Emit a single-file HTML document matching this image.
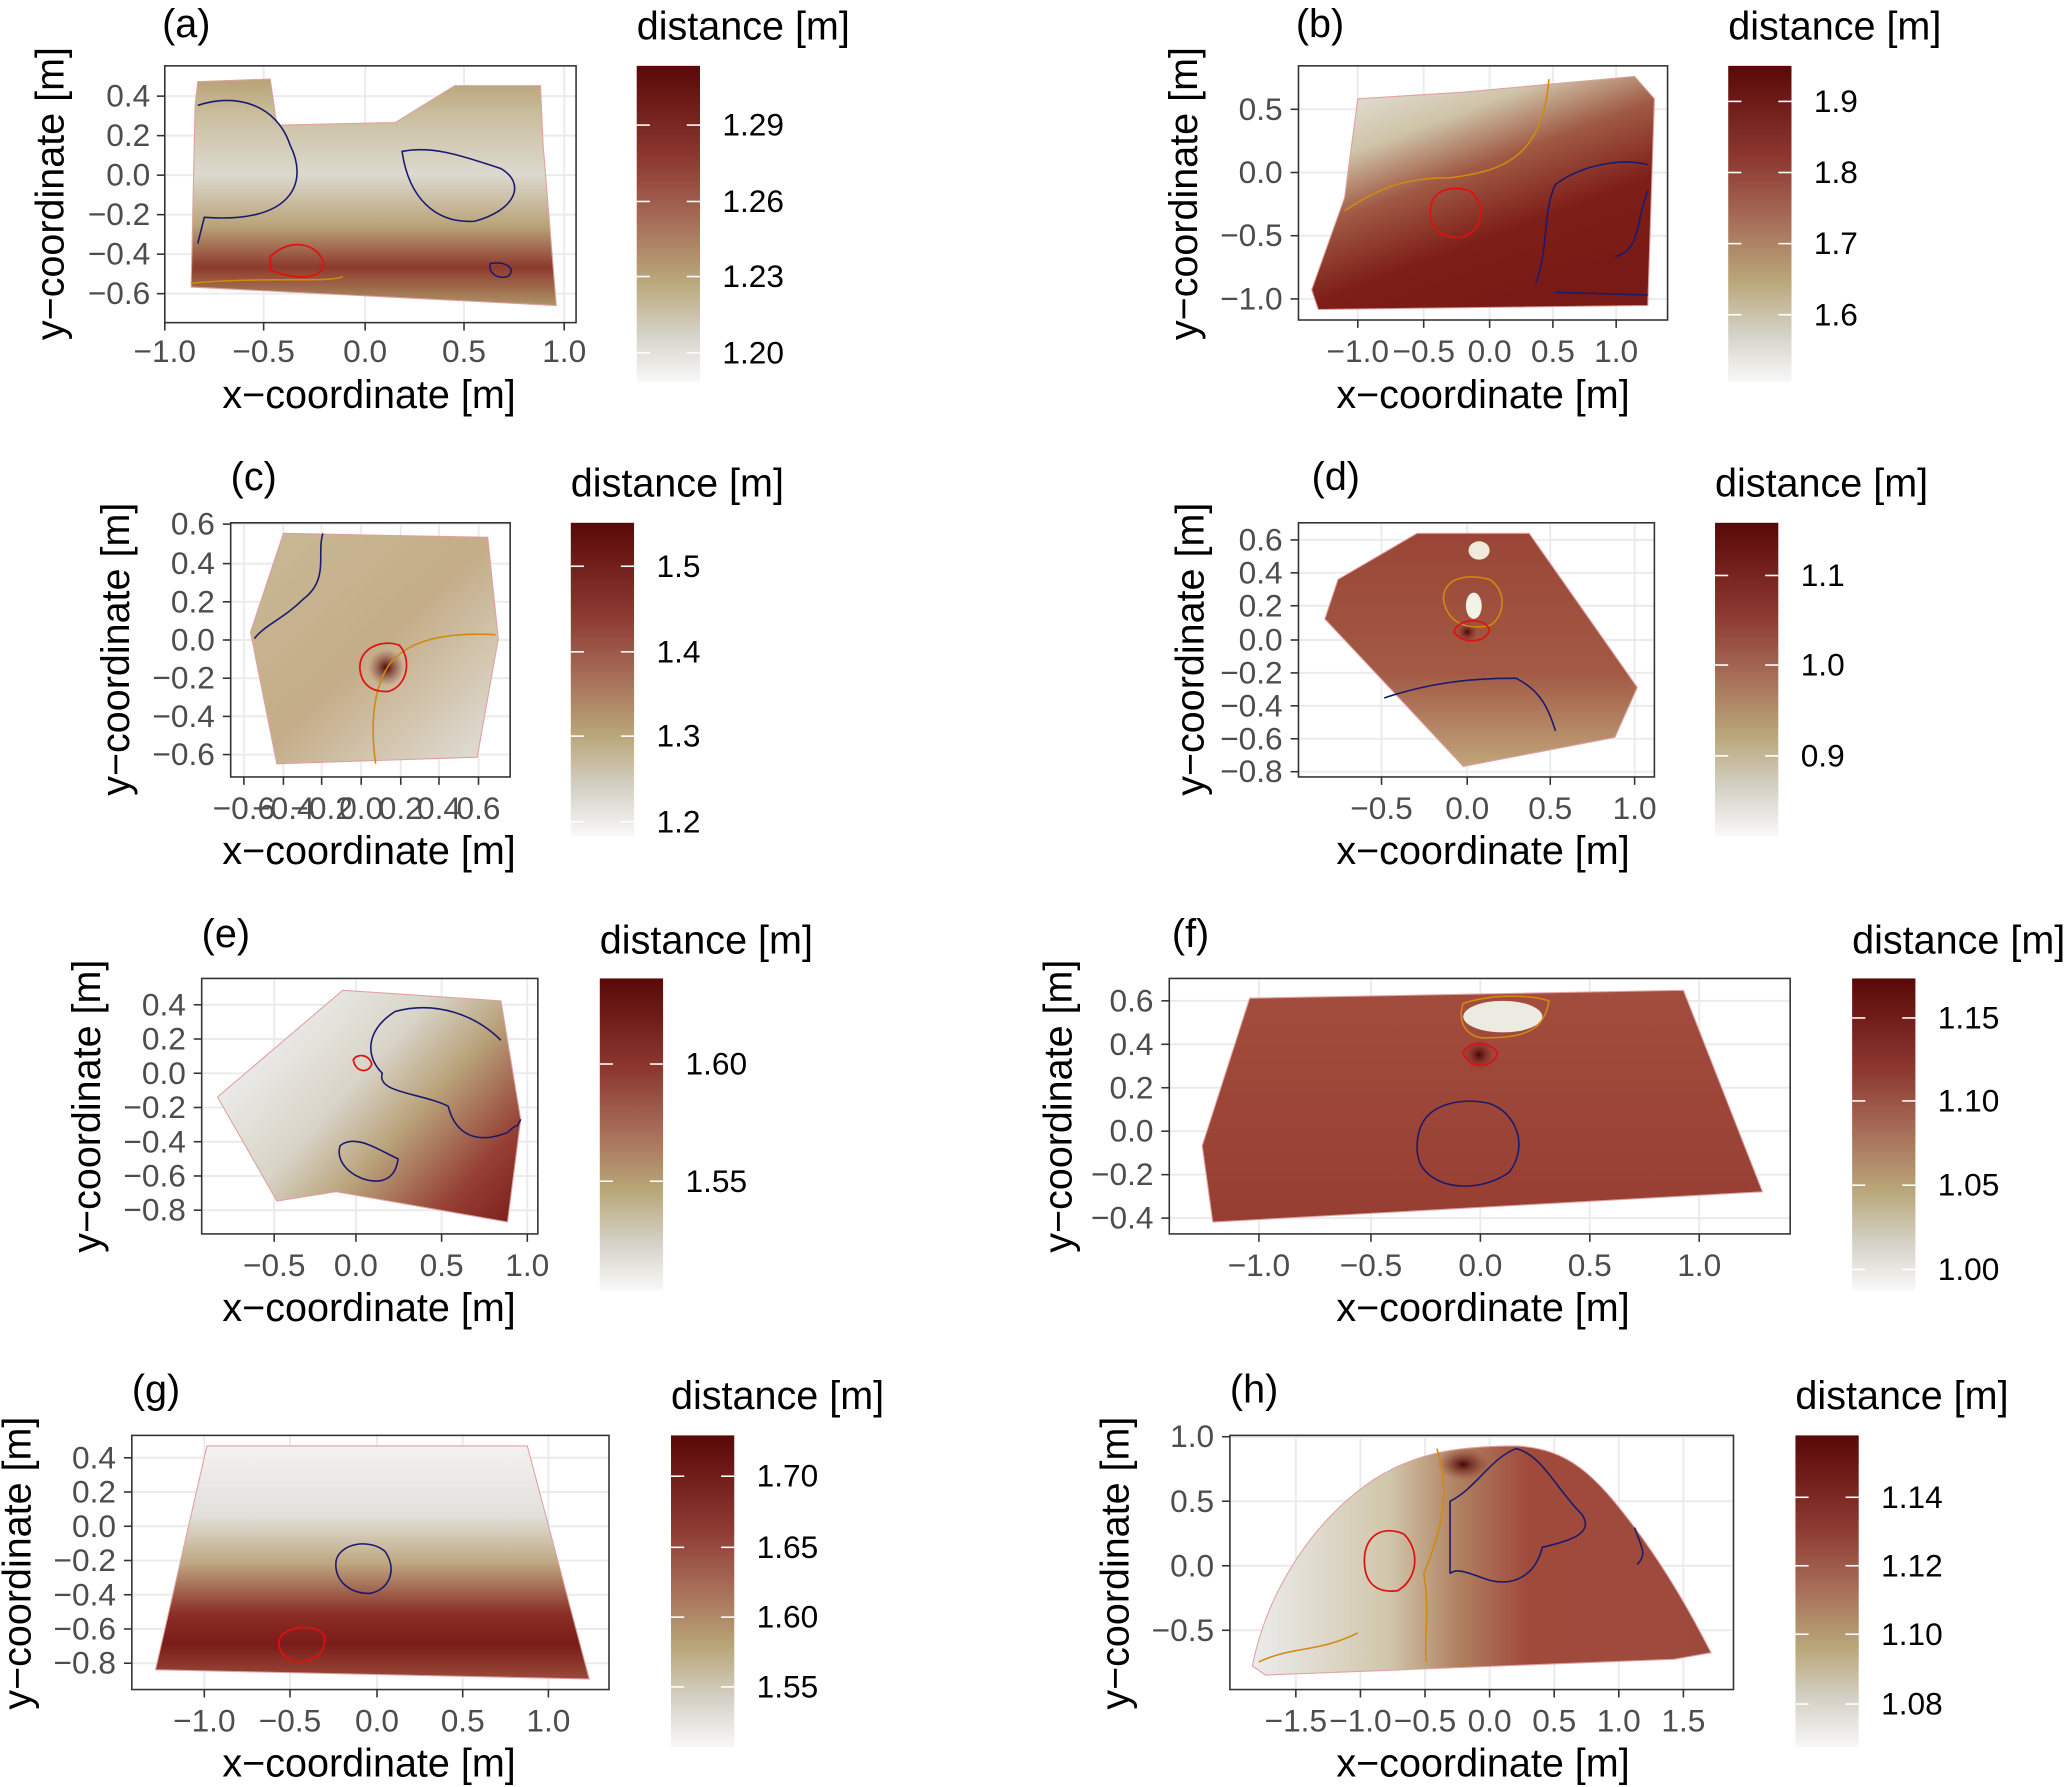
<!DOCTYPE html>
<html><head><meta charset="utf-8"><style>
html,body{margin:0;padding:0;background:#fff}
svg{display:block}
text{font-family:"Liberation Sans",Arial,sans-serif}
.t{font-size:24px;fill:#4d4d4d}
.ti{font-size:30px;fill:#000}
.g{stroke:#ebebeb;stroke-width:1.5;fill:none}
.b{fill:none;stroke:#333;stroke-width:1.2}
.tk{stroke:#333;stroke-width:1.2}
.cb{stroke:#fff;stroke-width:1.2}
.cn{fill:none;stroke:#1a1a6e;stroke-width:1.2}
.co{fill:none;stroke:#d08a10;stroke-width:1.2}
.cr{fill:none;stroke:#e01010;stroke-width:1.3}
</style></head><body>
<svg width="2067" height="1787" viewBox="0 0 1568 1357" preserveAspectRatio="none" xmlns="http://www.w3.org/2000/svg">
<defs>
<linearGradient id="cbar" x1="0" y1="0" x2="0" y2="1">
<stop offset="0" stop-color="#5a0808"/><stop offset="0.3" stop-color="#8e3a32"/><stop offset="0.5" stop-color="#a8705a"/><stop offset="0.68" stop-color="#b9a779"/><stop offset="0.85" stop-color="#d5d2c8"/><stop offset="1" stop-color="#f8f8f8"/>
</linearGradient>
<linearGradient id="ga" x1="0" y1="0" x2="0" y2="1">
<stop offset="0" stop-color="#b8a276"/><stop offset="0.15" stop-color="#c9bd9c"/><stop offset="0.42" stop-color="#ddd9cf"/><stop offset="0.65" stop-color="#b9a378"/><stop offset="0.83" stop-color="#8d3a2c"/><stop offset="1" stop-color="#ad9466"/>
</linearGradient>
<linearGradient id="gb" x1="0" y1="0" x2="0.55" y2="1">
<stop offset="0" stop-color="#ececec"/><stop offset="0.3" stop-color="#cfc4a8"/><stop offset="0.5" stop-color="#a05a44"/><stop offset="0.75" stop-color="#7e1e18"/><stop offset="1" stop-color="#7a1a16"/>
</linearGradient>
<linearGradient id="gc" x1="0" y1="0" x2="1" y2="1">
<stop offset="0" stop-color="#c8b995"/><stop offset="0.5" stop-color="#c4ad88"/><stop offset="1" stop-color="#e3e1dc"/>
</linearGradient>
<linearGradient id="gd" x1="0" y1="0" x2="0" y2="1">
<stop offset="0" stop-color="#9a4535"/><stop offset="0.6" stop-color="#a35a45"/><stop offset="1" stop-color="#c0a57a"/>
</linearGradient>
<linearGradient id="ge" x1="0" y1="0.3" x2="1" y2="1">
<stop offset="0" stop-color="#f0f0f0"/><stop offset="0.35" stop-color="#d8d4c8"/><stop offset="0.55" stop-color="#b9a27a"/><stop offset="0.8" stop-color="#964035"/><stop offset="1" stop-color="#7a1c1a"/>
</linearGradient>
<linearGradient id="gf" x1="0" y1="0" x2="0" y2="1">
<stop offset="0" stop-color="#a24d3e"/><stop offset="1" stop-color="#963e32"/>
</linearGradient>
<linearGradient id="gg" x1="0" y1="0" x2="0" y2="1">
<stop offset="0" stop-color="#f2f2f2"/><stop offset="0.3" stop-color="#e2e0da"/><stop offset="0.5" stop-color="#bfa882"/><stop offset="0.72" stop-color="#8a2e26"/><stop offset="0.85" stop-color="#7a1c18"/><stop offset="1" stop-color="#9a4a3a"/>
</linearGradient>
<linearGradient id="gh" x1="0" y1="0" x2="1" y2="0">
<stop offset="0" stop-color="#ececec"/><stop offset="0.3" stop-color="#d0c6aa"/><stop offset="0.45" stop-color="#b08060"/><stop offset="0.6" stop-color="#a04a3c"/><stop offset="1" stop-color="#9d4a3c"/>
</linearGradient>
<radialGradient id="spot"><stop offset="0" stop-color="#4a0505"/><stop offset="1" stop-color="#8a3a30" stop-opacity="0"/></radialGradient>
</defs>

<!-- ===== (a) ===== -->
<text class="ti" x="123" y="28">(a)</text>
<g class="g"><line x1="125" y1="73" x2="437" y2="73"/><line x1="125" y1="103" x2="437" y2="103"/><line x1="125" y1="133" x2="437" y2="133"/><line x1="125" y1="163" x2="437" y2="163"/><line x1="125" y1="193" x2="437" y2="193"/><line x1="125" y1="223" x2="437" y2="223"/><line x1="200" y1="50" x2="200" y2="245"/><line x1="277" y1="50" x2="277" y2="245"/><line x1="352" y1="50" x2="352" y2="245"/><line x1="428" y1="50" x2="428" y2="245"/></g>
<polygon points="150,62 205,60 210,95 300,93 345,65 410,65 412,110 422,232 145,218 148,80" fill="url(#ga)" stroke="#e0a0a0" stroke-width="0.8"/>
<path class="cn" d="M150,80 C180,70 210,80 220,110 C235,140 220,170 155,165 L150,185"/>
<path class="cn" d="M305,115 C330,110 355,120 380,128 C400,140 390,160 360,168 C330,170 310,150 305,115 Z"/>
<path class="cn" d="M372,200 C385,198 392,205 385,210 C378,212 370,208 372,200 Z"/>
<path class="cr" d="M205,195 C220,180 240,185 245,198 C248,210 230,215 205,205 Z"/>
<path class="co" d="M145,215 C200,210 250,215 260,210"/>
<rect class="b" x="125" y="50" width="312" height="195"/>
<g class="tk"><line x1="119" y1="73" x2="125" y2="73"/><line x1="119" y1="103" x2="125" y2="103"/><line x1="119" y1="133" x2="125" y2="133"/><line x1="119" y1="163" x2="125" y2="163"/><line x1="119" y1="193" x2="125" y2="193"/><line x1="119" y1="223" x2="125" y2="223"/><line x1="125" y1="245" x2="125" y2="251"/><line x1="200" y1="245" x2="200" y2="251"/><line x1="277" y1="245" x2="277" y2="251"/><line x1="352" y1="245" x2="352" y2="251"/><line x1="428" y1="245" x2="428" y2="251"/></g>
<g class="t" text-anchor="end"><text x="114" y="81">0.4</text><text x="114" y="111">0.2</text><text x="114" y="141">0.0</text><text x="114" y="171">−0.2</text><text x="114" y="201">−0.4</text><text x="114" y="231">−0.6</text></g>
<g class="t" text-anchor="middle"><text x="125" y="275">−1.0</text><text x="200" y="275">−0.5</text><text x="277" y="275">0.0</text><text x="352" y="275">0.5</text><text x="428" y="275">1.0</text></g>
<text class="ti" x="280" y="310" text-anchor="middle">x−coordinate [m]</text>
<text class="ti" transform="translate(48,147) rotate(-90)" text-anchor="middle">y−coordinate [m]</text>
<text class="ti" x="483" y="30">distance [m]</text>
<rect x="483" y="50" width="48" height="240" fill="url(#cbar)"/>
<g class="cb"><line x1="483" y1="95" x2="493" y2="95"/><line x1="521" y1="95" x2="531" y2="95"/><line x1="483" y1="153" x2="493" y2="153"/><line x1="521" y1="153" x2="531" y2="153"/><line x1="483" y1="210" x2="493" y2="210"/><line x1="521" y1="210" x2="531" y2="210"/><line x1="483" y1="268" x2="493" y2="268"/><line x1="521" y1="268" x2="531" y2="268"/></g>
<g class="t"><text x="548" y="103" style="fill:#000">1.29</text><text x="548" y="161" style="fill:#000">1.26</text><text x="548" y="218" style="fill:#000">1.23</text><text x="548" y="276" style="fill:#000">1.20</text></g>

<!-- ===== (b) ===== -->
<text class="ti" x="983" y="28">(b)</text>
<g class="g"><line x1="985" y1="83" x2="1265" y2="83"/><line x1="985" y1="131" x2="1265" y2="131"/><line x1="985" y1="179" x2="1265" y2="179"/><line x1="985" y1="227" x2="1265" y2="227"/><line x1="1030" y1="50" x2="1030" y2="243"/><line x1="1080" y1="50" x2="1080" y2="243"/><line x1="1130" y1="50" x2="1130" y2="243"/><line x1="1178" y1="50" x2="1178" y2="243"/><line x1="1226" y1="50" x2="1226" y2="243"/></g>
<polygon points="1030,75 1110,70 1240,58 1255,75 1250,232 1000,235 995,220 1020,150" fill="url(#gb)" stroke="#e0a0a0" stroke-width="0.8"/>
<path class="co" d="M1020,160 C1050,140 1070,135 1100,135 C1140,130 1170,120 1175,60"/>
<path class="cr" d="M1085,160 C1085,145 1100,140 1115,145 C1128,155 1125,175 1110,180 C1095,182 1085,175 1085,160 Z"/>
<path class="cn" d="M1250,125 C1230,120 1200,125 1180,140 C1170,160 1175,190 1165,215 M1250,145 C1240,170 1245,190 1225,195"/>
<path class="cn" d="M1180,222 L1250,224"/>
<rect class="b" x="985" y="50" width="280" height="193"/>
<g class="tk"><line x1="979" y1="83" x2="985" y2="83"/><line x1="979" y1="131" x2="985" y2="131"/><line x1="979" y1="179" x2="985" y2="179"/><line x1="979" y1="227" x2="985" y2="227"/><line x1="1030" y1="243" x2="1030" y2="249"/><line x1="1080" y1="243" x2="1080" y2="249"/><line x1="1130" y1="243" x2="1130" y2="249"/><line x1="1178" y1="243" x2="1178" y2="249"/><line x1="1226" y1="243" x2="1226" y2="249"/></g>
<g class="t" text-anchor="end"><text x="973" y="91">0.5</text><text x="973" y="139">0.0</text><text x="973" y="187">−0.5</text><text x="973" y="235">−1.0</text></g>
<g class="t" text-anchor="middle"><text x="1030" y="275">−1.0</text><text x="1080" y="275">−0.5</text><text x="1130" y="275">0.0</text><text x="1178" y="275">0.5</text><text x="1226" y="275">1.0</text></g>
<text class="ti" x="1125" y="310" text-anchor="middle">x−coordinate [m]</text>
<text class="ti" transform="translate(908,147) rotate(-90)" text-anchor="middle">y−coordinate [m]</text>
<text class="ti" x="1311" y="30">distance [m]</text>
<rect x="1311" y="50" width="48" height="240" fill="url(#cbar)"/>
<g class="cb"><line x1="1311" y1="77" x2="1321" y2="77"/><line x1="1349" y1="77" x2="1359" y2="77"/><line x1="1311" y1="131" x2="1321" y2="131"/><line x1="1349" y1="131" x2="1359" y2="131"/><line x1="1311" y1="185" x2="1321" y2="185"/><line x1="1349" y1="185" x2="1359" y2="185"/><line x1="1311" y1="239" x2="1321" y2="239"/><line x1="1349" y1="239" x2="1359" y2="239"/></g>
<g class="t"><text x="1376" y="85" style="fill:#000">1.9</text><text x="1376" y="139" style="fill:#000">1.8</text><text x="1376" y="193" style="fill:#000">1.7</text><text x="1376" y="247" style="fill:#000">1.6</text></g>

<!-- ===== (c) ===== -->
<text class="ti" x="175" y="372">(c)</text>
<g class="g"><line x1="175" y1="398" x2="387" y2="398"/><line x1="175" y1="428" x2="387" y2="428"/><line x1="175" y1="457" x2="387" y2="457"/><line x1="175" y1="486" x2="387" y2="486"/><line x1="175" y1="515" x2="387" y2="515"/><line x1="175" y1="544" x2="387" y2="544"/><line x1="175" y1="573" x2="387" y2="573"/><line x1="185" y1="397" x2="185" y2="590"/><line x1="215" y1="397" x2="215" y2="590"/><line x1="244" y1="397" x2="244" y2="590"/><line x1="274" y1="397" x2="274" y2="590"/><line x1="304" y1="397" x2="304" y2="590"/><line x1="333" y1="397" x2="333" y2="590"/><line x1="363" y1="397" x2="363" y2="590"/></g>
<polygon points="215,405 370,408 378,485 362,575 210,580 190,480" fill="url(#gc)" stroke="#e0a0a0" stroke-width="0.8"/>
<circle cx="293" cy="507" r="14" fill="url(#spot)"/>
<path class="cn" d="M245,405 C240,420 250,440 230,455 C215,470 200,475 193,485"/>
<path class="co" d="M376,482 C340,480 310,485 295,505 C285,520 280,545 285,580"/>
<path class="cr" d="M273,508 C272,492 290,485 303,490 C312,500 310,520 295,525 C280,526 274,518 273,508 Z"/>
<rect class="b" x="175" y="397" width="212" height="193"/>
<g class="tk"><line x1="169" y1="398" x2="175" y2="398"/><line x1="169" y1="428" x2="175" y2="428"/><line x1="169" y1="457" x2="175" y2="457"/><line x1="169" y1="486" x2="175" y2="486"/><line x1="169" y1="515" x2="175" y2="515"/><line x1="169" y1="544" x2="175" y2="544"/><line x1="169" y1="573" x2="175" y2="573"/><line x1="185" y1="590" x2="185" y2="596"/><line x1="215" y1="590" x2="215" y2="596"/><line x1="244" y1="590" x2="244" y2="596"/><line x1="274" y1="590" x2="274" y2="596"/><line x1="304" y1="590" x2="304" y2="596"/><line x1="333" y1="590" x2="333" y2="596"/><line x1="363" y1="590" x2="363" y2="596"/></g>
<g class="t" text-anchor="end"><text x="163" y="406">0.6</text><text x="163" y="436">0.4</text><text x="163" y="465">0.2</text><text x="163" y="494">0.0</text><text x="163" y="523">−0.2</text><text x="163" y="552">−0.4</text><text x="163" y="581">−0.6</text></g>
<g class="t" text-anchor="middle"><text x="185" y="622">−0.6</text><text x="215" y="622">−0.4</text><text x="244" y="622">−0.2</text><text x="274" y="622">0.0</text><text x="304" y="622">0.2</text><text x="333" y="622">0.4</text><text x="363" y="622">0.6</text></g>
<text class="ti" x="280" y="656" text-anchor="middle">x−coordinate [m]</text>
<text class="ti" transform="translate(98,493) rotate(-90)" text-anchor="middle">y−coordinate [m]</text>
<text class="ti" x="433" y="377">distance [m]</text>
<rect x="433" y="397" width="48" height="238" fill="url(#cbar)"/>
<g class="cb"><line x1="433" y1="430" x2="443" y2="430"/><line x1="471" y1="430" x2="481" y2="430"/><line x1="433" y1="495" x2="443" y2="495"/><line x1="471" y1="495" x2="481" y2="495"/><line x1="433" y1="559" x2="443" y2="559"/><line x1="471" y1="559" x2="481" y2="559"/><line x1="433" y1="624" x2="443" y2="624"/><line x1="471" y1="624" x2="481" y2="624"/></g>
<g class="t"><text x="498" y="438" style="fill:#000">1.5</text><text x="498" y="503" style="fill:#000">1.4</text><text x="498" y="567" style="fill:#000">1.3</text><text x="498" y="632" style="fill:#000">1.2</text></g>

<!-- ===== (d) ===== -->
<text class="ti" x="995" y="372">(d)</text>
<g class="g"><line x1="985" y1="410" x2="1255" y2="410"/><line x1="985" y1="435" x2="1255" y2="435"/><line x1="985" y1="460" x2="1255" y2="460"/><line x1="985" y1="486" x2="1255" y2="486"/><line x1="985" y1="511" x2="1255" y2="511"/><line x1="985" y1="536" x2="1255" y2="536"/><line x1="985" y1="561" x2="1255" y2="561"/><line x1="985" y1="586" x2="1255" y2="586"/><line x1="1048" y1="397" x2="1048" y2="590"/><line x1="1113" y1="397" x2="1113" y2="590"/><line x1="1176" y1="397" x2="1176" y2="590"/><line x1="1240" y1="397" x2="1240" y2="590"/></g>
<polygon points="1075,405 1160,405 1242,522 1225,560 1110,582 1005,470 1015,440" fill="url(#gd)" stroke="#e0a0a0" stroke-width="0.8"/>
<ellipse cx="1122" cy="418" rx="8" ry="7" fill="#eeeadc"/>
<ellipse cx="1118" cy="460" rx="6" ry="10" fill="#f4f2e8"/>
<circle cx="1113" cy="480" r="8" fill="url(#spot)"/>
<path class="co" d="M1095,455 C1095,440 1110,435 1130,440 C1145,450 1140,470 1130,475 C1115,478 1098,475 1095,455 Z"/>
<path class="cr" d="M1103,480 C1105,470 1125,468 1130,478 C1128,488 1110,490 1103,480 Z"/>
<path class="cn" d="M1050,530 C1080,520 1110,515 1150,515 C1170,525 1175,540 1180,555"/>
<rect class="b" x="985" y="397" width="270" height="193"/>
<g class="tk"><line x1="979" y1="410" x2="985" y2="410"/><line x1="979" y1="435" x2="985" y2="435"/><line x1="979" y1="460" x2="985" y2="460"/><line x1="979" y1="486" x2="985" y2="486"/><line x1="979" y1="511" x2="985" y2="511"/><line x1="979" y1="536" x2="985" y2="536"/><line x1="979" y1="561" x2="985" y2="561"/><line x1="979" y1="586" x2="985" y2="586"/><line x1="1048" y1="590" x2="1048" y2="596"/><line x1="1113" y1="590" x2="1113" y2="596"/><line x1="1176" y1="590" x2="1176" y2="596"/><line x1="1240" y1="590" x2="1240" y2="596"/></g>
<g class="t" text-anchor="end"><text x="973" y="418">0.6</text><text x="973" y="443">0.4</text><text x="973" y="468">0.2</text><text x="973" y="494">0.0</text><text x="973" y="519">−0.2</text><text x="973" y="544">−0.4</text><text x="973" y="569">−0.6</text><text x="973" y="594">−0.8</text></g>
<g class="t" text-anchor="middle"><text x="1048" y="622">−0.5</text><text x="1113" y="622">0.0</text><text x="1176" y="622">0.5</text><text x="1240" y="622">1.0</text></g>
<text class="ti" x="1125" y="656" text-anchor="middle">x−coordinate [m]</text>
<text class="ti" transform="translate(913,493) rotate(-90)" text-anchor="middle">y−coordinate [m]</text>
<text class="ti" x="1301" y="377">distance [m]</text>
<rect x="1301" y="397" width="48" height="238" fill="url(#cbar)"/>
<g class="cb"><line x1="1301" y1="437" x2="1311" y2="437"/><line x1="1339" y1="437" x2="1349" y2="437"/><line x1="1301" y1="505" x2="1311" y2="505"/><line x1="1339" y1="505" x2="1349" y2="505"/><line x1="1301" y1="574" x2="1311" y2="574"/><line x1="1339" y1="574" x2="1349" y2="574"/></g>
<g class="t"><text x="1366" y="445" style="fill:#000">1.1</text><text x="1366" y="513" style="fill:#000">1.0</text><text x="1366" y="582" style="fill:#000">0.9</text></g>

<!-- ===== (e) ===== -->
<text class="ti" x="153" y="719">(e)</text>
<g class="g"><line x1="153" y1="763" x2="408" y2="763"/><line x1="153" y1="789" x2="408" y2="789"/><line x1="153" y1="815" x2="408" y2="815"/><line x1="153" y1="841" x2="408" y2="841"/><line x1="153" y1="867" x2="408" y2="867"/><line x1="153" y1="893" x2="408" y2="893"/><line x1="153" y1="919" x2="408" y2="919"/><line x1="208" y1="743" x2="208" y2="937"/><line x1="270" y1="743" x2="270" y2="937"/><line x1="335" y1="743" x2="335" y2="937"/><line x1="400" y1="743" x2="400" y2="937"/></g>
<polygon points="165,833 260,752 380,760 395,850 385,928 255,905 210,912" fill="url(#ge)" stroke="#e0a0a0" stroke-width="0.8"/>
<path class="cn" d="M380,790 C360,770 330,760 300,768 C280,780 275,800 290,815 C285,830 320,830 340,840 C345,860 360,870 385,860 C395,850 390,860 395,850"/>
<path class="cn" d="M258,870 C270,860 290,875 302,880 C300,895 290,900 275,895 C262,890 255,880 258,870 Z"/>
<path class="cr" d="M268,805 C270,800 280,800 282,808 C280,815 270,815 268,805 Z"/>
<rect class="b" x="153" y="743" width="255" height="194"/>
<g class="tk"><line x1="147" y1="763" x2="153" y2="763"/><line x1="147" y1="789" x2="153" y2="789"/><line x1="147" y1="815" x2="153" y2="815"/><line x1="147" y1="841" x2="153" y2="841"/><line x1="147" y1="867" x2="153" y2="867"/><line x1="147" y1="893" x2="153" y2="893"/><line x1="147" y1="919" x2="153" y2="919"/><line x1="208" y1="937" x2="208" y2="943"/><line x1="270" y1="937" x2="270" y2="943"/><line x1="335" y1="937" x2="335" y2="943"/><line x1="400" y1="937" x2="400" y2="943"/></g>
<g class="t" text-anchor="end"><text x="141" y="771">0.4</text><text x="141" y="797">0.2</text><text x="141" y="823">0.0</text><text x="141" y="849">−0.2</text><text x="141" y="875">−0.4</text><text x="141" y="901">−0.6</text><text x="141" y="927">−0.8</text></g>
<g class="t" text-anchor="middle"><text x="208" y="969">−0.5</text><text x="270" y="969">0.0</text><text x="335" y="969">0.5</text><text x="400" y="969">1.0</text></g>
<text class="ti" x="280" y="1003" text-anchor="middle">x−coordinate [m]</text>
<text class="ti" transform="translate(76,840) rotate(-90)" text-anchor="middle">y−coordinate [m]</text>
<text class="ti" x="455" y="724">distance [m]</text>
<rect x="455" y="743" width="48" height="237" fill="url(#cbar)"/>
<g class="cb"><line x1="455" y1="808" x2="465" y2="808"/><line x1="493" y1="808" x2="503" y2="808"/><line x1="455" y1="897" x2="465" y2="897"/><line x1="493" y1="897" x2="503" y2="897"/></g>
<g class="t"><text x="520" y="816" style="fill:#000">1.60</text><text x="520" y="905" style="fill:#000">1.55</text></g>

<!-- ===== (f) ===== -->
<text class="ti" x="889" y="719">(f)</text>
<g class="g"><line x1="887" y1="760" x2="1358" y2="760"/><line x1="887" y1="793" x2="1358" y2="793"/><line x1="887" y1="826" x2="1358" y2="826"/><line x1="887" y1="859" x2="1358" y2="859"/><line x1="887" y1="892" x2="1358" y2="892"/><line x1="887" y1="925" x2="1358" y2="925"/><line x1="955" y1="743" x2="955" y2="937"/><line x1="1040" y1="743" x2="1040" y2="937"/><line x1="1123" y1="743" x2="1123" y2="937"/><line x1="1206" y1="743" x2="1206" y2="937"/><line x1="1289" y1="743" x2="1289" y2="937"/></g>
<polygon points="948,758 1277,752 1337,905 920,928 912,870" fill="url(#gf)" stroke="#e0a0a0" stroke-width="0.8"/>
<ellipse cx="1140" cy="772" rx="30" ry="12" fill="#ecebe2"/>
<circle cx="1122" cy="801" r="12" fill="url(#spot)"/>
<path class="co" d="M1110,762 C1130,755 1160,755 1175,760 C1172,780 1160,788 1130,788 C1112,790 1105,775 1110,762 Z"/>
<path class="cr" d="M1110,800 C1112,790 1132,790 1136,800 C1132,812 1115,812 1110,800 Z"/>
<path class="cn" d="M1078,855 C1085,838 1110,833 1130,838 C1150,845 1160,870 1145,890 C1125,905 1090,905 1078,885 C1073,875 1075,862 1078,855 Z"/>
<rect class="b" x="887" y="743" width="471" height="194"/>
<g class="tk"><line x1="881" y1="760" x2="887" y2="760"/><line x1="881" y1="793" x2="887" y2="793"/><line x1="881" y1="826" x2="887" y2="826"/><line x1="881" y1="859" x2="887" y2="859"/><line x1="881" y1="892" x2="887" y2="892"/><line x1="881" y1="925" x2="887" y2="925"/><line x1="955" y1="937" x2="955" y2="943"/><line x1="1040" y1="937" x2="1040" y2="943"/><line x1="1123" y1="937" x2="1123" y2="943"/><line x1="1206" y1="937" x2="1206" y2="943"/><line x1="1289" y1="937" x2="1289" y2="943"/></g>
<g class="t" text-anchor="end"><text x="875" y="768">0.6</text><text x="875" y="801">0.4</text><text x="875" y="834">0.2</text><text x="875" y="867">0.0</text><text x="875" y="900">−0.2</text><text x="875" y="933">−0.4</text></g>
<g class="t" text-anchor="middle"><text x="955" y="969">−1.0</text><text x="1040" y="969">−0.5</text><text x="1123" y="969">0.0</text><text x="1206" y="969">0.5</text><text x="1289" y="969">1.0</text></g>
<text class="ti" x="1125" y="1003" text-anchor="middle">x−coordinate [m]</text>
<text class="ti" transform="translate(813,840) rotate(-90)" text-anchor="middle">y−coordinate [m]</text>
<text class="ti" x="1405" y="724">distance [m]</text>
<rect x="1405" y="743" width="48" height="237" fill="url(#cbar)"/>
<g class="cb"><line x1="1405" y1="773" x2="1415" y2="773"/><line x1="1443" y1="773" x2="1453" y2="773"/><line x1="1405" y1="836" x2="1415" y2="836"/><line x1="1443" y1="836" x2="1453" y2="836"/><line x1="1405" y1="900" x2="1415" y2="900"/><line x1="1443" y1="900" x2="1453" y2="900"/><line x1="1405" y1="964" x2="1415" y2="964"/><line x1="1443" y1="964" x2="1453" y2="964"/></g>
<g class="t"><text x="1470" y="781" style="fill:#000">1.15</text><text x="1470" y="844" style="fill:#000">1.10</text><text x="1470" y="908" style="fill:#000">1.05</text><text x="1470" y="972" style="fill:#000">1.00</text></g>

<!-- ===== (g) ===== -->
<text class="ti" x="100" y="1065">(g)</text>
<g class="g"><line x1="100" y1="1107" x2="462" y2="1107"/><line x1="100" y1="1133" x2="462" y2="1133"/><line x1="100" y1="1159" x2="462" y2="1159"/><line x1="100" y1="1185" x2="462" y2="1185"/><line x1="100" y1="1211" x2="462" y2="1211"/><line x1="100" y1="1237" x2="462" y2="1237"/><line x1="100" y1="1263" x2="462" y2="1263"/><line x1="155" y1="1090" x2="155" y2="1283"/><line x1="220" y1="1090" x2="220" y2="1283"/><line x1="286" y1="1090" x2="286" y2="1283"/><line x1="351" y1="1090" x2="351" y2="1283"/><line x1="416" y1="1090" x2="416" y2="1283"/></g>
<polygon points="157,1098 400,1098 447,1275 118,1268" fill="url(#gg)" stroke="#e0a0a0" stroke-width="0.8"/>
<path class="cn" d="M255,1185 C258,1172 280,1168 292,1178 C302,1192 295,1208 280,1210 C265,1210 253,1200 255,1185 Z"/>
<path class="cr" d="M212,1245 C215,1235 240,1232 246,1242 C248,1255 238,1262 225,1262 C215,1260 210,1252 212,1245 Z"/>
<rect class="b" x="100" y="1090" width="362" height="193"/>
<g class="tk"><line x1="94" y1="1107" x2="100" y2="1107"/><line x1="94" y1="1133" x2="100" y2="1133"/><line x1="94" y1="1159" x2="100" y2="1159"/><line x1="94" y1="1185" x2="100" y2="1185"/><line x1="94" y1="1211" x2="100" y2="1211"/><line x1="94" y1="1237" x2="100" y2="1237"/><line x1="94" y1="1263" x2="100" y2="1263"/><line x1="155" y1="1283" x2="155" y2="1289"/><line x1="220" y1="1283" x2="220" y2="1289"/><line x1="286" y1="1283" x2="286" y2="1289"/><line x1="351" y1="1283" x2="351" y2="1289"/><line x1="416" y1="1283" x2="416" y2="1289"/></g>
<g class="t" text-anchor="end"><text x="88" y="1115">0.4</text><text x="88" y="1141">0.2</text><text x="88" y="1167">0.0</text><text x="88" y="1193">−0.2</text><text x="88" y="1219">−0.4</text><text x="88" y="1245">−0.6</text><text x="88" y="1271">−0.8</text></g>
<g class="t" text-anchor="middle"><text x="155" y="1315">−1.0</text><text x="220" y="1315">−0.5</text><text x="286" y="1315">0.0</text><text x="351" y="1315">0.5</text><text x="416" y="1315">1.0</text></g>
<text class="ti" x="280" y="1349" text-anchor="middle">x−coordinate [m]</text>
<text class="ti" transform="translate(23,1187) rotate(-90)" text-anchor="middle">y−coordinate [m]</text>
<text class="ti" x="509" y="1070">distance [m]</text>
<rect x="509" y="1090" width="48" height="237" fill="url(#cbar)"/>
<g class="cb"><line x1="509" y1="1121" x2="519" y2="1121"/><line x1="547" y1="1121" x2="557" y2="1121"/><line x1="509" y1="1175" x2="519" y2="1175"/><line x1="547" y1="1175" x2="557" y2="1175"/><line x1="509" y1="1228" x2="519" y2="1228"/><line x1="547" y1="1228" x2="557" y2="1228"/><line x1="509" y1="1281" x2="519" y2="1281"/><line x1="547" y1="1281" x2="557" y2="1281"/></g>
<g class="t"><text x="574" y="1129" style="fill:#000">1.70</text><text x="574" y="1183" style="fill:#000">1.65</text><text x="574" y="1236" style="fill:#000">1.60</text><text x="574" y="1289" style="fill:#000">1.55</text></g>

<!-- ===== (h) ===== -->
<text class="ti" x="933" y="1065">(h)</text>
<g class="g"><line x1="933" y1="1091" x2="1315" y2="1091"/><line x1="933" y1="1140" x2="1315" y2="1140"/><line x1="933" y1="1189" x2="1315" y2="1189"/><line x1="933" y1="1238" x2="1315" y2="1238"/><line x1="983" y1="1090" x2="983" y2="1283"/><line x1="1032" y1="1090" x2="1032" y2="1283"/><line x1="1081" y1="1090" x2="1081" y2="1283"/><line x1="1130" y1="1090" x2="1130" y2="1283"/><line x1="1179" y1="1090" x2="1179" y2="1283"/><line x1="1228" y1="1090" x2="1228" y2="1283"/><line x1="1277" y1="1090" x2="1277" y2="1283"/></g>
<path d="M950,1265 C960,1215 990,1160 1040,1125 C1070,1105 1100,1098 1150,1098 C1190,1100 1210,1120 1240,1160 C1270,1200 1290,1240 1298,1255 L1270,1260 L960,1272 Z" fill="url(#gh)" stroke="#e0a0a0" stroke-width="0.8"/>
<ellipse cx="1110" cy="1112" rx="20" ry="12" fill="url(#spot)"/>
<path class="co" d="M1090,1100 C1100,1130 1095,1160 1080,1195 C1085,1220 1080,1250 1082,1262 M955,1262 C980,1250 1000,1255 1030,1240"/>
<path class="cr" d="M1035,1185 C1035,1165 1050,1158 1065,1165 C1078,1178 1075,1200 1060,1208 C1042,1210 1035,1200 1035,1185 Z"/>
<path class="cn" d="M1100,1195 L1100,1140 C1120,1130 1130,1108 1150,1100 C1170,1105 1180,1130 1200,1150 C1210,1165 1190,1170 1170,1175 C1165,1195 1150,1205 1130,1200 C1115,1195 1105,1190 1100,1195 M1240,1160 C1245,1175 1250,1180 1242,1188"/>
<rect class="b" x="933" y="1090" width="382" height="193"/>
<g class="tk"><line x1="927" y1="1091" x2="933" y2="1091"/><line x1="927" y1="1140" x2="933" y2="1140"/><line x1="927" y1="1189" x2="933" y2="1189"/><line x1="927" y1="1238" x2="933" y2="1238"/><line x1="983" y1="1283" x2="983" y2="1289"/><line x1="1032" y1="1283" x2="1032" y2="1289"/><line x1="1081" y1="1283" x2="1081" y2="1289"/><line x1="1130" y1="1283" x2="1130" y2="1289"/><line x1="1179" y1="1283" x2="1179" y2="1289"/><line x1="1228" y1="1283" x2="1228" y2="1289"/><line x1="1277" y1="1283" x2="1277" y2="1289"/></g>
<g class="t" text-anchor="end"><text x="921" y="1099">1.0</text><text x="921" y="1148">0.5</text><text x="921" y="1197">0.0</text><text x="921" y="1246">−0.5</text></g>
<g class="t" text-anchor="middle"><text x="983" y="1315">−1.5</text><text x="1032" y="1315">−1.0</text><text x="1081" y="1315">−0.5</text><text x="1130" y="1315">0.0</text><text x="1179" y="1315">0.5</text><text x="1228" y="1315">1.0</text><text x="1277" y="1315">1.5</text></g>
<text class="ti" x="1125" y="1349" text-anchor="middle">x−coordinate [m]</text>
<text class="ti" transform="translate(856,1187) rotate(-90)" text-anchor="middle">y−coordinate [m]</text>
<text class="ti" x="1362" y="1070">distance [m]</text>
<rect x="1362" y="1090" width="48" height="237" fill="url(#cbar)"/>
<g class="cb"><line x1="1362" y1="1137" x2="1372" y2="1137"/><line x1="1400" y1="1137" x2="1410" y2="1137"/><line x1="1362" y1="1189" x2="1372" y2="1189"/><line x1="1400" y1="1189" x2="1410" y2="1189"/><line x1="1362" y1="1241" x2="1372" y2="1241"/><line x1="1400" y1="1241" x2="1410" y2="1241"/><line x1="1362" y1="1294" x2="1372" y2="1294"/><line x1="1400" y1="1294" x2="1410" y2="1294"/></g>
<g class="t"><text x="1427" y="1145" style="fill:#000">1.14</text><text x="1427" y="1197" style="fill:#000">1.12</text><text x="1427" y="1249" style="fill:#000">1.10</text><text x="1427" y="1302" style="fill:#000">1.08</text></g>
</svg>
</body></html>
